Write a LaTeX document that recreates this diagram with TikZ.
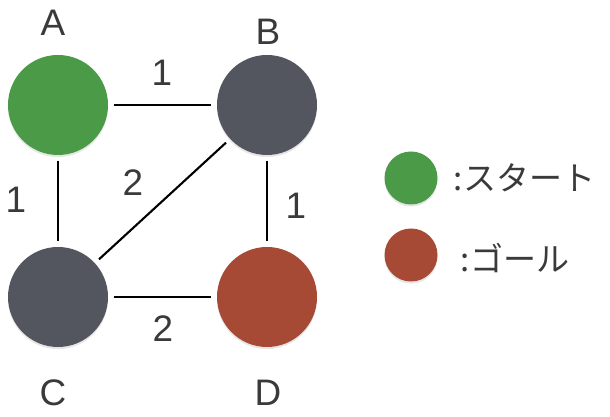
\documentclass[tikz,border=0pt]{standalone}
\usepackage{fontspec}
\setmainfont{Liberation Sans}
\newfontfamily\jpfont{Noto Sans CJK JP}
\usetikzlibrary{positioning,shadows}

\definecolor{startgreen}{HTML}{4A9A47}
\definecolor{nodegray}{HTML}{53565E}
\definecolor{goalred}{HTML}{A64A36}
\definecolor{textgray}{HTML}{3A3A3A}

\begin{document}
\begin{tikzpicture}[x=1cm,y=-1cm]
% Styles
\tikzstyle{vertex}=[circle,inner sep=0pt,minimum size=1.0cm,
  drop shadow={opacity=0.2,shadow xshift=0pt,shadow yshift=-0.6pt}]
\tikzstyle{keydot}=[circle,inner sep=0pt,minimum size=0.53cm,
  drop shadow={opacity=0.2,shadow xshift=0pt,shadow yshift=-0.6pt}]
\tikzstyle{name text}=[text=textgray,font=\fontsize{10.5}{12}\selectfont]
\tikzstyle{weight text}=[text=textgray,font=\fontsize{10.5}{12}\selectfont]
\tikzstyle{key text}=[text=textgray,font=\jpfont\fontsize{9.4}{11}\selectfont,inner sep=0pt]
\tikzstyle{edge}=[line width=0.6pt,shorten <=0.05cm,shorten >=0.05cm]

\useasboundingbox (0,0) rectangle (6.10,4.17);

% draw the nodes
\foreach \name/\x/\y/\col in {A/0.58/1.05/startgreen,B/2.67/1.05/nodegray,
                              C/0.58/2.97/nodegray,D/2.67/2.97/goalred} {
\node[vertex,fill=\col] (\name) at (\x,\y) {};
}

% node names
\node[name text] (nameA) at (0.53,0.23) {A};
\node[name text] (nameB) at (2.68,0.32) {B};
\node[name text] (nameC) at (0.53,3.93) {C};
\node[name text] (nameD) at (2.68,3.93) {D};

% edges
\draw[edge] (A) -- (B);
\draw[edge] (A) -- (C);
\draw[edge] (B) -- (D);
\draw[edge] (C) -- (D);
\draw[edge] (B) -- (C);

% weights
\node[weight text] (wAB) at (1.62,0.73) {1};
\node[weight text] (wAC) at (0.16,2.00) {1};
\node[weight text] (wBC) at (1.33,1.83) {2};
\node[weight text] (wBD) at (2.96,2.06) {1};
\node[weight text] (wCD) at (1.63,3.29) {2};

% legend
\node[keydot,fill=startgreen] (startkey) at (4.11,1.78) {};
\node[keydot,fill=goalred] (goalkey) at (4.11,2.55) {};
\node[key text,right=0.15cm of startkey] (starttext) {:スタート};
\node[key text,right=0.22cm of goalkey,yshift=-0.03cm] (goaltext) {:ゴール};

\end{tikzpicture}
\end{document}
